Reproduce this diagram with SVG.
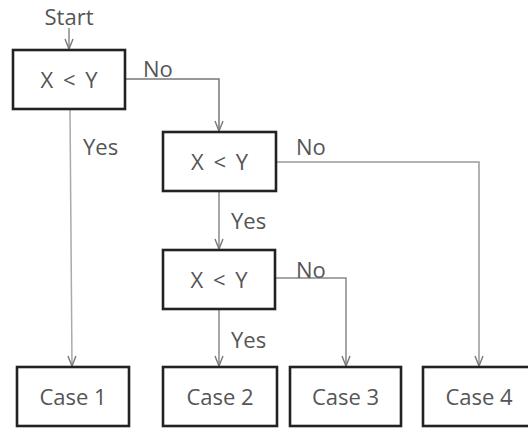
<svg xmlns="http://www.w3.org/2000/svg" width="528" height="428" viewBox="0 0 528 428">
<style>
.box{fill:#fff;stroke:#222;stroke-width:2.6}
.t{font-family:"Open Sans","Noto Sans",sans-serif;font-size:22px;fill:#555}
.c{text-anchor:middle}
.x{word-spacing:4px}
.ln{fill:none;stroke:#888;stroke-width:1.5}
</style>
<defs>
<marker id="ah" viewBox="0 0 12 10" refX="11" refY="5" markerWidth="12" markerHeight="10" markerUnits="userSpaceOnUse" orient="auto">
<path d="M1,1 L11,5 L1,9" fill="none" stroke="#777" stroke-width="1.4"/>
</marker>
</defs>
<text class="t c" x="69" y="25">Start</text>
<g id="connectors">
<path class="ln" d="M69,28 L69,49" marker-end="url(#ah)"/>
<path class="ln" d="M125,79 L219,79 L219,131" style="stroke:#777" marker-end="url(#ah)"/>
<path class="ln" d="M70,109 L72,366" style="stroke:#aaa" marker-end="url(#ah)"/>
<path class="ln" d="M276,162 L479,162 L479,366" style="stroke:#999" marker-end="url(#ah)"/>
<path class="ln" d="M219,191 L219,249" marker-end="url(#ah)"/>
<path class="ln" d="M275,278 L346,278 L346,366" marker-end="url(#ah)"/>
<path class="ln" d="M219,309 L219,366" marker-end="url(#ah)"/>
</g>
<g id="labels">
<text class="t" x="143" y="77">No</text>
<text class="t" x="83" y="155">Yes</text>
<text class="t" x="296" y="155">No</text>
<text class="t" x="231" y="229">Yes</text>
<text class="t" x="296" y="278">No</text>
<text class="t" x="231" y="348">Yes</text>
</g>
<g id="decision1"><rect class="box" x="13" y="50" width="112" height="59"/><text class="t c x" x="69" y="88">X &lt; Y</text></g>
<g id="decision2"><rect class="box" x="163" y="132" width="113" height="59"/><text class="t c x" x="219.5" y="170">X &lt; Y</text></g>
<g id="decision3"><rect class="box" x="163" y="250" width="112" height="59"/><text class="t c x" x="219" y="288">X &lt; Y</text></g>
<g id="case1"><rect class="box" x="17" y="367" width="112" height="59"/><text class="t c" x="73" y="405">Case 1</text></g>
<g id="case2"><rect class="box" x="163" y="367" width="114" height="59"/><text class="t c" x="220" y="405">Case 2</text></g>
<g id="case3"><rect class="box" x="290" y="367" width="111" height="59"/><text class="t c" x="345.5" y="405">Case 3</text></g>
<g id="case4"><rect class="box" x="423" y="367" width="112" height="59"/><text class="t c" x="479" y="405">Case 4</text></g>
</svg>
